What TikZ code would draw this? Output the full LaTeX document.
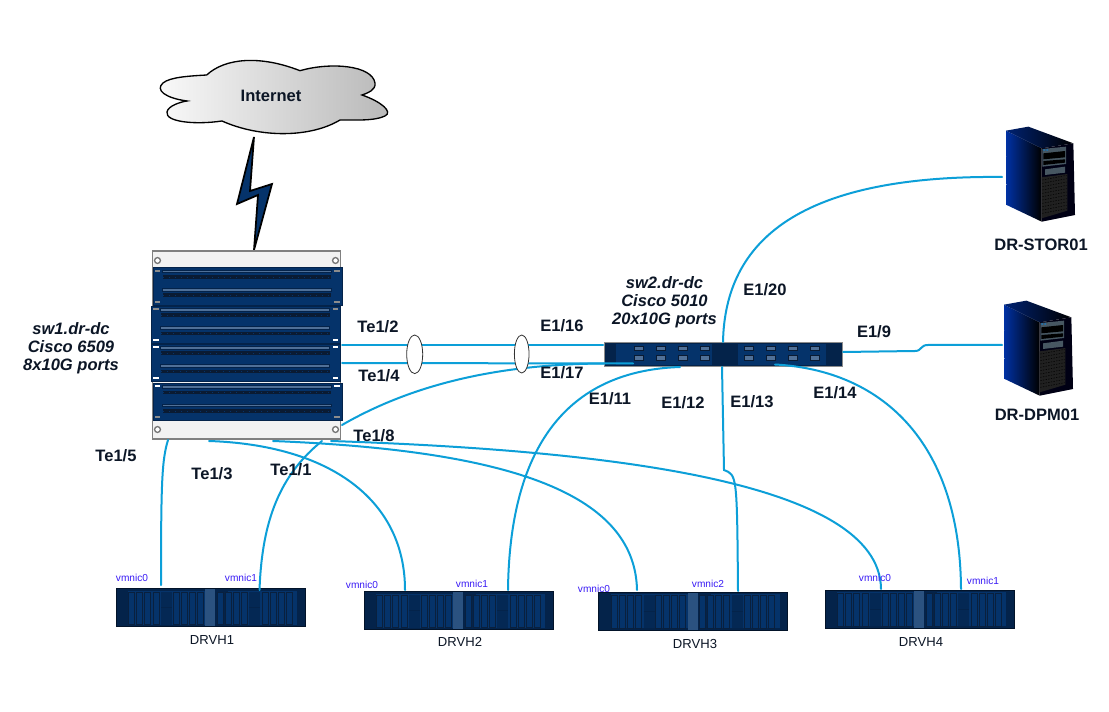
\documentclass[tikz,border=0pt]{standalone}
\usepackage{fontspec}
\setmainfont{Liberation Sans}
\usetikzlibrary{calc,shapes.geometric}
\definecolor{cable}{HTML}{0C9FD8}
\definecolor{navy}{HTML}{05336A}
\definecolor{navydk}{HTML}{04234A}
\definecolor{navyin}{HTML}{0A1B33}
\definecolor{txt}{HTML}{0C1626}
\definecolor{vm}{HTML}{3A1CF5}
\tikzset{
  wire/.style={draw=cable,line width=1.5pt,line cap=round},
  lbl/.style={font=\fontsize{12.4}{14}\selectfont\bfseries,text=txt,inner sep=0pt},
  swlbl/.style={font=\fontsize{12.4}{13.4}\selectfont\bfseries\itshape,text=txt,inner sep=0pt,align=center},
  hostlbl/.style={font=\fontsize{9.8}{12}\selectfont,text=txt,inner sep=0pt},
  niclbl/.style={font=\fontsize{7.6}{9}\selectfont,text=vm,inner sep=0pt},
  lag/.style={draw=black!80,fill=white,line width=0.6pt,ellipse,inner sep=0pt},
  hostbox/.style={draw=black!45!navydk,fill=navydk,line width=0.6pt,minimum width=141.75pt,minimum height=28.5pt,inner sep=0pt},
}
\newcommand{\hostdetail}[2]{%
 \begin{scope}[shift={(#1,#2)}]
  \fill[navy] (12,2) rectangle (92,36);
  \fill[navy] (112,2) rectangle (181,36);
  \fill[navy!85!white] (89,0.5) rectangle (99,37.5);
  \foreach \a in {45,133}{\fill[navydk!70!navy] (\a,3) rectangle (\a+11,36);
    \draw[navydk,line width=0.3pt] (\a,19) -- (\a+11,19);}
  \foreach \a in {12.5,20.6,28.8,37,57,65,73,81,101,109,117,125,146,154,162,170}{
    \draw[navyin!80!navy,fill=navy,line width=0.7pt] (\a,3.5) rectangle (\a+6,36);}
 \end{scope}}
\newcommand{\hwmodule}[4]{%
 \begin{scope}[shift={(#1,#2)}]
  \fill[navy] (0,0) rectangle (189,37.5);
  \draw[navydk,line width=0.6pt] (0,0) rectangle (189,37.5);
  \foreach \b/\r in {2.3/7.3,20.7/25.7}{
    \draw[navydk,fill=navy!70!white,line width=0.5pt] (9,\b) rectangle (178,\b+2.6);
    \fill[navyin] (9.5,\r) rectangle (178,\r+3.7);
    \draw[navy,line width=0.3pt,dash pattern=on 0.4pt off 4.2pt] (9.5,\r+1.85) -- (178,\r+1.85);}
  \fill[#3] (1.7,2.2) rectangle (7,4.2);
  \fill[#3] (181,2.2) rectangle (186.2,4.2);
  \fill[#4] (1.7,33) rectangle (7,35);
  \fill[#4] (181,33) rectangle (186.2,35);
 \end{scope}}
\newcommand{\tower}[3]{%
 \begin{scope}[shift={(#1,#2)},x=0.25pt,y=-0.25pt]
  \shade[left color=#3,right color=black] (48,32) -- (155,85) -- (155,305) -- (50,255) -- cycle;
  \shade[left color=#3!70!black,right color=black] (48,32) -- (115,20) -- (250,70) -- (155,85) -- cycle;
  \fill[black!92!blue] (155,85) -- (250,70) -- (255,285) -- (155,305) -- cycle;
  \fill[black!70!cyan] (157,87) -- (228,80) -- (228,132) -- (157,140) -- cycle;
  \fill[black] (160,100) -- (225,93) -- (225,112) -- (160,118) -- cycle;
  \fill[black] (160,123) -- (225,118) -- (225,128) -- (160,135) -- cycle;
  \fill[cyan!60!blue] (160,88) rectangle (165,92) (169,88) rectangle (174,92);
  \fill[black!70!cyan] (165,148) -- (225,140) -- (225,158) -- (165,165) -- cycle;
  \fill[black!75!gray] (155,172) -- (232,162) -- (232,272) -- (155,295) -- cycle;
  \foreach \gy in {180,190,...,280}{\draw[black,line width=0.4pt,dash pattern=on 1pt off 1pt] (157,\gy) -- (230,\gy-14);}
 \end{scope}}
\begin{document}
\begin{tikzpicture}[x=0.75pt,y=-0.75pt]
\useasboundingbox (0,0) rectangle (1109,712);
\fill[white] (0,0) rectangle (1109,712);

% cloud
\shade[left color=white!98!black,right color=black!28,draw=black,line width=1pt]
 (206.7,75) .. controls (225,58) and (260,55) .. (300,70.7)
 .. controls (330,62) and (372,65) .. (375,83)
 .. controls (376,90) and (368,93) .. (362,95)
 .. controls (382,102) and (393,112) .. (385,116)
 .. controls (375,121) and (355,120) .. (340,120)
 .. controls (310,138) and (260,138) .. (222,121)
 .. controls (195,125) and (165,122) .. (167,112)
 .. controls (168,106) and (180,102) .. (187,101)
 .. controls (165,98) and (155,90) .. (163,83)
 .. controls (170,77) and (190,76) .. (206.7,75) -- cycle;
\node[lbl] (internet) at (271,96) {Internet};
\coordinate (boltTop) at (254,137);
\coordinate (boltBot) at (254,250);
% lightning
\draw[draw=black,fill=navy,line width=1.3pt,line join=miter]
 (boltTop) -- (237,204) -- (258,195) -- (boltBot) -- (272,184) -- (250,191) -- cycle;

% switch 1
\node[draw=black!50,fill=black!5,line width=1.1pt,minimum width=141pt,minimum height=141pt,inner sep=0pt] (sw1) at (246.5,345) {};
\foreach \hx/\hy in {157.5/260.5,335.5/260.5,157.5/429.5,335.5/429.5}{
  \draw[black!55,fill=white,line width=1pt] (\hx,\hy) circle (2.2pt);}
\hwmodule{153.3}{267.7}{black!45}{black!45}
\hwmodule{151.7}{306}{black!45}{white}
\hwmodule{151.7}{344}{white}{white}
\hwmodule{153.3}{383.3}{white}{black!45}

% switch 2
\node[draw=black!45,fill=navydk,line width=0.7pt,minimum width=178.5pt,minimum height=18pt,inner sep=0pt] (sw2) at (723.3,354.7) {};
\fill[navy] (616,344) rectangle (826,365.5);
\fill[navydk] (712,344.5) rectangle (738,365);
\foreach \px in {634.3,656,678.3,700,744.3,766,788.3,810}{
  \draw[navyin,fill=navy!70!white,line width=0.7pt] (\px,346) rectangle (\px+9,350.7);
  \draw[navyin,fill=navy!70!white,line width=0.7pt] (\px,355.3) rectangle (\px+9,360);}

% hosts
\node[hostbox] (h1) at (210.5,607.5) {};
\node[hostbox] (h2) at (458.5,610.5) {};
\node[hostbox] (h3) at (693,611) {};
\node[hostbox] (h4) at (919.5,609) {};
\hostdetail{116}{588.5}
\hostdetail{364}{591.5}
\hostdetail{598.5}{592}
\hostdetail{825}{590}

% towers
\tower{990}{120}{black!65!cyan!55!blue}
\tower{988}{294}{black!65!cyan!55!blue}
\node[inner sep=0pt,minimum size=1pt] (stor) at (1003,177) {};
\node[inner sep=0pt,minimum size=1pt] (dpm) at (1003,345) {};

% connector end points
\coordinate (sw1a) at (342,345);
\coordinate (sw1b) at (342,363);
\coordinate (sw2a) at (603,345);
\coordinate (sw2b) at (633,363.5);
\coordinate (sw1c) at (342,425);
\coordinate (sw2c) at (604,363.5);
\coordinate (sw1d) at (168,440);
\coordinate (sw1e) at (209,441);
\coordinate (sw1f) at (273,441);
\coordinate (sw1g) at (331,441);
\coordinate (sw1h) at (322,441);
\coordinate (h1a) at (161,585);
\coordinate (h1b) at (259.5,590);
\coordinate (h2a) at (405,590);
\coordinate (h2b) at (508,590);
\coordinate (h3a) at (637,590);
\coordinate (h3b) at (738,591);
\coordinate (h4a) at (881,589);
\coordinate (h4b) at (961,589);
\coordinate (sw2d) at (680,367);
\coordinate (sw2e) at (722,367);
\coordinate (sw2f) at (775,364.5);
\coordinate (sw2g) at (723,342);
\coordinate (sw2h) at (843,352);

% cables
\draw[wire] (sw1a) -- (sw2a);
\draw[wire] (sw1b) -- (sw2b);
\draw[wire] (sw1c) .. controls (420,380) and (510,364) .. (sw2c);
\draw[wire] (sw1d) .. controls (162,460) and (161,480) .. (h1a);
\draw[wire] (sw1e) .. controls (330,445) and (405,500) .. (h2a);
\draw[wire] (sw1f) .. controls (500,450) and (635,490) .. (h3a);
\draw[wire] (sw1g) .. controls (600,450) and (880,480) .. (h4a);
\draw[wire] (h1b) .. controls (262,520) and (280,475) .. (sw1h);
\draw[wire] (sw2d) .. controls (590,370) and (510,420) .. (h2b);
\draw[wire] (sw2e) -- (724,470) .. controls (737,475) .. (h3b);
\draw[wire] (sw2f) .. controls (880,370) and (960,440) .. (h4b);
\draw[wire] (sw2g) .. controls (725,240) and (800,175) .. (stor);
\draw[wire] (sw2h) -- (915,351) .. controls (922,351) and (920,345) .. (928,345) -- (dpm);

% link aggregation rings
\node[lag,minimum width=12pt,minimum height=29pt] (lag1) at (414.7,354.3) {};
\node[lag,minimum width=11pt,minimum height=28.5pt] (lag2) at (521.7,354) {};

% labels
\node[swlbl] (sw1t) at (71,348) {sw1.dr-dc\\Cisco 6509\\8x10G ports};
\node[swlbl] (sw2t) at (664.5,302) {sw2.dr-dc\\Cisco 5010\\20x10G ports};
\node[lbl] (l1) at (378,327) {Te1/2};
\node[lbl] (l2) at (379,376) {Te1/4};
\node[lbl] (l3) at (562,326) {E1/16};
\node[lbl] (l4) at (562,373) {E1/17};
\node[lbl] (l5) at (116,456) {Te1/5};
\node[lbl] (l6) at (212,474) {Te1/3};
\node[lbl] (l7) at (291,470) {Te1/1};
\node[lbl] (l8) at (374,436) {Te1/8};
\node[lbl] (l9) at (765,290) {E1/20};
\node[lbl] (l10) at (874,332) {E1/9};
\node[lbl] (l11) at (610,399) {E1/11};
\node[lbl] (l12) at (683,403) {E1/12};
\node[lbl] (l13) at (752,402) {E1/13};
\node[lbl] (l14) at (835,393) {E1/14};
\node[lbl] (st) at (1041,245) {DR-STOR01};
\node[lbl] (dp) at (1037,415) {DR-DPM01};
\node[hostlbl] (n1) at (212,640) {DRVH1};
\node[hostlbl] (n2) at (460,642) {DRVH2};
\node[hostlbl] (n3) at (695,644) {DRVH3};
\node[hostlbl] (n4) at (921,642) {DRVH4};
\node[niclbl] (v1) at (132,578) {vmnic0};
\node[niclbl] (v2) at (241,578) {vmnic1};
\node[niclbl] (v3) at (362,585) {vmnic0};
\node[niclbl] (v4) at (472,584) {vmnic1};
\node[niclbl] (v5) at (594,589) {vmnic0};
\node[niclbl] (v6) at (708,584) {vmnic2};
\node[niclbl] (v7) at (875,578) {vmnic0};
\node[niclbl] (v8) at (983,581) {vmnic1};
\end{tikzpicture}
\end{document}
